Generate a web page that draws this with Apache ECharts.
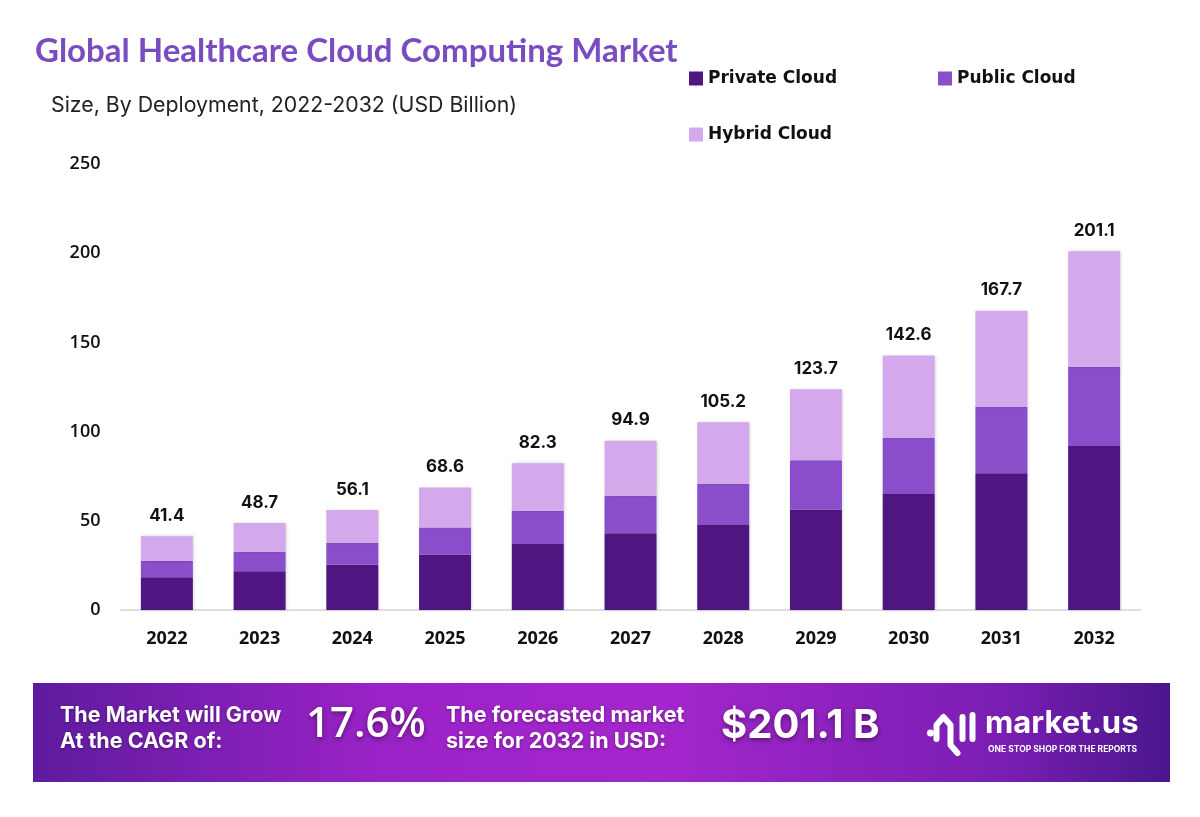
<!DOCTYPE html>
<html>
<head>
<meta charset="utf-8">
<script src="https://cdn.jsdelivr.net/npm/echarts@6/dist/echarts.min.js"></script>
<style>
html,body{margin:0;padding:0;background:#fff;}
#chart{width:1200px;height:817px;}
</style>
</head>
<body>
<div id="chart"></div>
<script>
const years = ['2022','2023','2024','2025','2026','2027','2028','2029','2030','2031','2032'];
const privateCloud = [18.3, 21.7, 25.4, 31.0, 37.0, 43.0, 47.6, 56.4, 65.0, 76.6, 91.9];
const publicCloud  = [9.3, 10.8, 12.3, 15.3, 18.5, 21.1, 23.0, 27.5, 31.4, 37.2, 44.5];
const hybridCloud  = [13.8, 16.2, 18.4, 22.3, 26.8, 30.8, 34.6, 39.8, 46.2, 53.9, 64.7];
const totals       = [41.4, 48.7, 56.1, 68.6, 82.3, 94.9, 105.2, 123.7, 142.6, 167.7, 201.1];
const yTicks = [0, 50, 100, 150, 200, 250];

const colors = { priv: '#4f1681', pub: '#8b4ecb', hyb: '#d3a9eb' };

const chart = echarts.init(document.getElementById('chart'));
const legendText = { fontFamily: 'DejaVu Sans', fontWeight: 700, fontSize: 17, color: '#111' };
const barShadow = { shadowColor: 'rgba(0,0,0,0.18)', shadowBlur: 3, shadowOffsetX: 1 };

chart.setOption({
  backgroundColor: '#ffffff',
  animation: false,
  title: [
    { text: 'Global Healthcare Cloud Computing Market', left: 30, top: 30,
      textStyle: { fontFamily: 'Lato', fontWeight: 700, fontSize: 33, color: '#7a4cc2' } },
    { text: 'Size, By Deployment, 2022-2032 (USD Billion)', left: 46, top: 90,
      textStyle: { fontFamily: 'Inter', fontWeight: 400, fontSize: 21.3, color: '#222' } }
  ],
  legend: [
    { data: ['Private Cloud'], left: 684, top: 65, itemWidth: 14, itemHeight: 14,
      icon: 'rect', textStyle: legendText, selectedMode: false },
    { data: ['Public Cloud'], left: 933, top: 65, itemWidth: 14, itemHeight: 14,
      icon: 'rect', textStyle: legendText, selectedMode: false },
    { data: ['Hybrid Cloud'], left: 684, top: 121, itemWidth: 14, itemHeight: 14,
      icon: 'rect', textStyle: legendText, selectedMode: false }
  ],
  grid: { left: 120.5, right: 59.5, top: 164, bottom: 207, containLabel: false },
  xAxis: {
    type: 'category', data: years,
    axisLine: { show: true, lineStyle: { color: '#d4d4d4', width: 1.5 } },
    axisTick: { show: false },
    axisLabel: { fontFamily: 'Open Sans', fontWeight: 700, fontSize: 18, color: '#111', margin: 20 }
  },
  yAxis: {
    type: 'value', min: yTicks[0], max: yTicks[yTicks.length - 1], interval: 50,
    axisLine: { show: false }, axisTick: { show: false }, splitLine: { show: false },
    axisLabel: { fontFamily: 'Open Sans', fontWeight: 600, fontSize: 18, color: '#111', margin: 20 }
  },
  series: [
    { name: 'Private Cloud', type: 'bar', stack: 'total', data: privateCloud, barWidth: 52,
      itemStyle: Object.assign({ color: colors.priv }, barShadow) },
    { name: 'Public Cloud', type: 'bar', stack: 'total', data: publicCloud, barWidth: 52,
      itemStyle: Object.assign({ color: colors.pub }, barShadow) },
    { name: 'Hybrid Cloud', type: 'bar', stack: 'total', data: hybridCloud, barWidth: 52,
      itemStyle: Object.assign({ color: colors.hyb }, barShadow),
      label: { show: true, position: 'top', distance: 12,
        formatter: p => totals[p.dataIndex].toFixed(1),
        fontFamily: 'Inter', fontWeight: 700, fontSize: 17, color: '#111' } }
  ],
  graphic: [
    { type: 'rect', shape: { x: 33, y: 683, width: 1137, height: 99 }, z: 0,
      style: { fill: new echarts.graphic.LinearGradient(0, 0, 1, 0, [
        { offset: 0, color: '#5e1b9e' },
        { offset: 0.3, color: '#9a22c6' },
        { offset: 0.55, color: '#a426cc' },
        { offset: 0.85, color: '#7a1eb3' },
        { offset: 1, color: '#4a168c' }
      ]) } },
    { type: 'text', left: 60, top: 703, z: 5,
      style: { text: 'The Market will Grow\nAt the CAGR of:', fill: '#fff',
        font: '700 21.5px Inter', lineHeight: 26,
        textShadowColor: 'rgba(0,0,0,0.35)', textShadowBlur: 3, textShadowOffsetY: 1 } },
    { type: 'text', left: 306, top: 704, z: 5,
      style: { text: '17.6%', fill: '#fff', font: '600 42px "Open Sans"',
        textShadowColor: 'rgba(0,0,0,0.45)', textShadowBlur: 5, textShadowOffsetY: 2 } },
    { type: 'text', left: 446, top: 703, z: 5,
      style: { text: 'The forecasted market\nsize for 2032 in USD:', fill: '#fff',
        font: '700 21.5px Inter', lineHeight: 26,
        textShadowColor: 'rgba(0,0,0,0.35)', textShadowBlur: 3, textShadowOffsetY: 1 } },
    { type: 'text', left: 721, top: 706, z: 5,
      style: { text: '$201.1 B', fill: '#fff', font: '700 40px Inter',
        textShadowColor: 'rgba(0,0,0,0.45)', textShadowBlur: 5, textShadowOffsetY: 2 } },
    // logo icon
    { type: 'group', left: 927, top: 712, z: 5, children: [
      { type: 'circle', shape: { cx: 4, cy: 22, r: 3.5 }, style: { fill: '#fff' } },
      { type: 'polyline', shape: { points: [[10, 28], [10, 14], [17, 6], [24, 14], [24, 34], [31, 42]] },
        style: { stroke: '#fff', lineWidth: 6, fill: null, lineCap: 'round', lineJoin: 'round' } },
      { type: 'line', shape: { x1: 36, y1: 6, x2: 36, y2: 28 },
        style: { stroke: '#fff', lineWidth: 6, lineCap: 'round' } },
      { type: 'line', shape: { x1: 46, y1: 4, x2: 46, y2: 28 },
        style: { stroke: '#fff', lineWidth: 6, lineCap: 'round' } }
    ] },
    { type: 'text', left: 985, top: 708, z: 5,
      style: { text: 'market.us', fill: '#fff', font: '700 31px Inter' } },
    { type: 'text', left: 988, top: 745, z: 5,
      style: { text: 'ONE STOP SHOP FOR THE REPORTS', fill: '#fff', font: '700 8.5px Inter' } }
  ]
});
</script>
</body>
</html>
